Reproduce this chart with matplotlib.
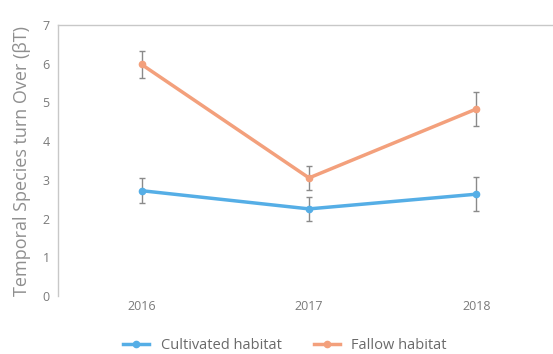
import numpy as np
import matplotlib.pyplot as plt
from matplotlib.lines import Line2D

years = ['2016', '2017', '2018']
cultivated = [2.72, 2.25, 2.63]
cultivated_err = [0.33, 0.31, 0.44]
fallow = [5.98, 3.05, 4.83]
fallow_err = [0.35, 0.31, 0.44]

blue = '#55aee6'
orange = '#f3a07c'

plt.rcParams['font.family'] = ['Open Sans', 'DejaVu Sans']

fig = plt.figure(figsize=(5.53, 3.54), dpi=100)
ax = fig.add_axes([58 / 553, (354 - 296) / 354, (560 - 58) / 553, (296 - 25) / 354])

x = np.arange(len(years))
ax.errorbar(x, cultivated, yerr=cultivated_err, color=blue, lw=2.5,
            marker='o', ms=4.5, ecolor='#8a8a8a', elinewidth=1, capsize=2.5,
            capthick=1)
ax.errorbar(x, fallow, yerr=fallow_err, color=orange, lw=2.5,
            marker='o', ms=4.5, ecolor='#8a8a8a', elinewidth=1, capsize=2.5,
            capthick=1)

ax.set_xlim(-0.5, 2.5)
ax.set_ylim(0, 7)
ax.set_xticks(x)
ax.set_xticklabels(years)
ax.set_yticks(range(8))
ax.tick_params(length=0, labelsize=9, colors='#7a7a7a', pad=6)
ax.tick_params(axis='x', pad=3)
for s in ['bottom', 'right']:
    ax.spines[s].set_visible(False)
for s in ['left', 'top']:
    ax.spines[s].set_color('#c8c8c8')
    ax.spines[s].set_linewidth(1)
ax.set_ylabel('Temporal Species turn Over (βT)', fontsize=13, color='#8f8f8f', labelpad=8)

h = [Line2D([], [], color=blue, lw=2.5, marker='o', ms=4.5),
     Line2D([], [], color=orange, lw=2.5, marker='o', ms=4.5)]
l = ['Cultivated habitat', 'Fallow habitat']
fig.legend(h, l, loc='lower center', bbox_to_anchor=(0.515, -0.035), ncol=2,
           frameon=False, fontsize=10.5, labelcolor='#6a6a6a', handlelength=1.8,
           columnspacing=2.2)

fig.savefig('out.png', dpi=100)
